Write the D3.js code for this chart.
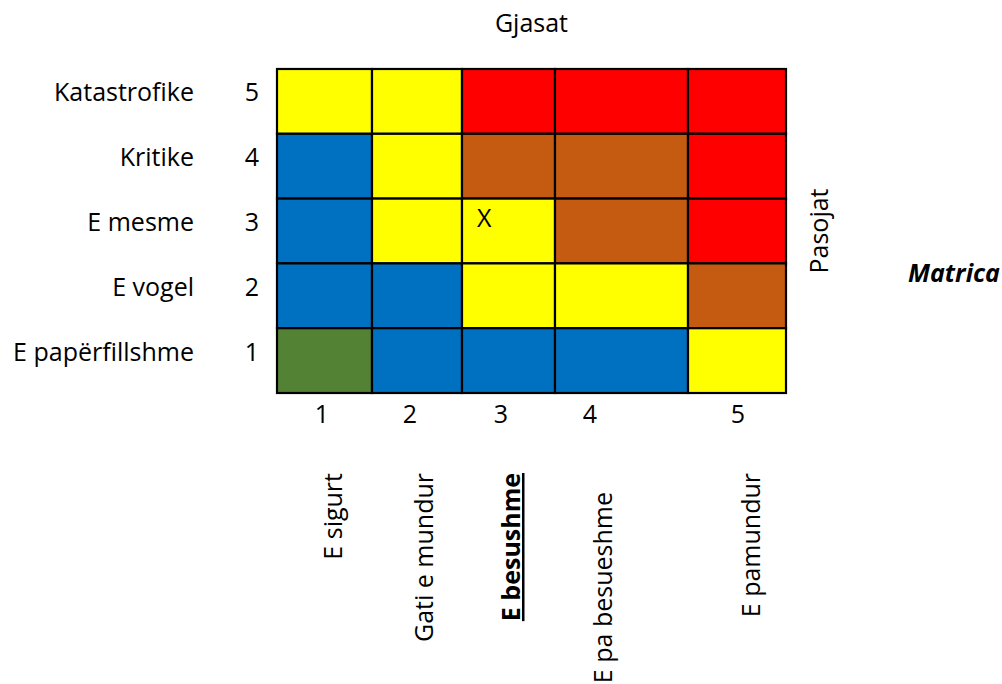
<!DOCTYPE html>
<html>
<head>
<meta charset="utf-8">
<script src="https://cdn.jsdelivr.net/npm/d3@7"></script>
<style>
  html, body { margin: 0; padding: 0; background: #fff; }
  text { font-family: "Open Sans", "Lato", sans-serif; fill: #000; }
</style>
</head>
<body>
<svg id="chart" width="1002" height="684"></svg>
<script>
// ---- data ----
const likelihoodLevels = [1, 2, 3, 4, 5];
const likelihoodLabels = ["E sigurt", "Gati e mundur", "E besushme", "E pa besueshme", "E pamundur"];
const consequenceLevels = [5, 4, 3, 2, 1];
const consequenceLabels = ["Katastrofike", "Kritike", "E mesme", "E vogel", "E papërfillshme"];
// risk level per cell, rows = consequence 5..1, cols = likelihood 1..5
const riskRow5 = [3, 3, 5, 5, 5];
const riskRow4 = [2, 3, 4, 4, 5];
const riskRow3 = [2, 3, 3, 4, 5];
const riskRow2 = [2, 2, 3, 3, 4];
const riskRow1 = [1, 2, 2, 2, 3];
const riskLevels = [1, 2, 3, 4, 5];
const riskColors = ["#548235", "#0070C0", "#FFFF00", "#C55A11", "#FF0000"];
const marked = { likelihood: 3, consequence: 3, label: "X" };
const xTitle = "Gjasat";
const yTitle = "Pasojat";
const caption = "Matrica";
const highlightedLabel = "E besushme";

// ---- layout ----
const colEdges = [277, 372, 462, 555, 688, 786];
const gridTop = 69, gridBottom = 393;
const numOffsets = [45, 38, 39, 35, 50];
const rotBaseOffsets = [65, 61, 58, 57, 72];
const rotTopShift = [0, 0, 0, 19, 0];
const fontSize = 25;

const svg = d3.select("#chart");
svg.append("rect").attr("width", 1002).attr("height", 684).attr("fill", "#fff");

const x = d3.scaleLinear().domain([0.5, 1.5, 2.5, 3.5, 4.5, 5.5]).range(colEdges);
const y = d3.scaleBand().domain(consequenceLevels).range([gridTop, gridBottom]);
const color = d3.scaleOrdinal().domain(riskLevels).range(riskColors);

const rows = [riskRow5, riskRow4, riskRow3, riskRow2, riskRow1];
const cells = [];
rows.forEach((row, ri) => row.forEach((v, ci) => cells.push({ c: consequenceLevels[ri], l: likelihoodLevels[ci], v })));

svg.append("g").selectAll("rect").data(cells).join("rect")
  .attr("x", d => x(d.l - 0.5))
  .attr("y", d => y(d.c))
  .attr("width", d => x(d.l + 0.5) - x(d.l - 0.5))
  .attr("height", y.bandwidth())
  .attr("fill", d => color(d.v))
  .attr("stroke", "#000")
  .attr("stroke-width", 2.2);

// marker
svg.append("text")
  .attr("x", x(marked.likelihood - 0.5) + 15)
  .attr("y", y(marked.consequence) + 28)
  .attr("font-size", fontSize)
  .text(marked.label);

// row labels
const rowLab = svg.append("g");
consequenceLevels.forEach((c, i) => {
  const by = y(c) + y.bandwidth() / 2;
  rowLab.append("text").attr("x", 194).attr("y", by).attr("text-anchor", "end")
    .attr("font-size", fontSize).text(consequenceLabels[i]);
  rowLab.append("text").attr("x", 252).attr("y", by).attr("text-anchor", "middle")
    .attr("font-size", fontSize).text(c);
});

// column numbers
likelihoodLevels.forEach((l, i) => {
  svg.append("text").attr("x", x(l - 0.5) + numOffsets[i]).attr("y", 423)
    .attr("text-anchor", "middle").attr("font-size", fontSize).text(l);
});

// rotated labels
likelihoodLevels.forEach((l, i) => {
  const bx = x(l - 0.5) + rotBaseOffsets[i];
  const ty = 473 + rotTopShift[i];
  const isHi = likelihoodLabels[i] === highlightedLabel;
  svg.append("text")
    .attr("transform", `translate(${bx},${ty}) rotate(-90)`)
    .attr("text-anchor", "end")
    .attr("font-size", fontSize)
    .attr("font-weight", isHi ? "bold" : "normal")
    .attr("text-decoration", isHi ? "underline" : null)
    .text(likelihoodLabels[i]);
});

// titles
svg.append("text").attr("x", (colEdges[0] + colEdges[5]) / 2).attr("y", 32)
  .attr("text-anchor", "middle").attr("font-size", fontSize).text(xTitle);
svg.append("text")
  .attr("transform", `translate(828,${(gridTop + gridBottom) / 2}) rotate(-90)`)
  .attr("text-anchor", "middle").attr("font-size", fontSize).text(yTitle);
svg.append("text").attr("x", 908).attr("y", 282)
  .attr("font-size", fontSize).attr("font-weight", "bold").attr("font-style", "italic")
  .text(caption);
</script>
</body>
</html>
